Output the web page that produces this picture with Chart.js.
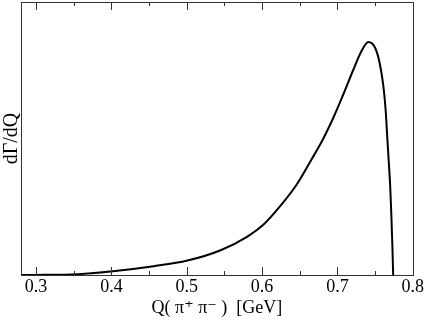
<!DOCTYPE html>
<html>
<head>
  <meta charset="UTF-8" />
  <title>dΓ/dQ</title>
  <script src="https://cdn.jsdelivr.net/npm/chart.js"></script>
  <style>
    html, body { margin: 0; padding: 0; background: #fff; }
    #wrap { width: 425px; height: 323px; }
  </style>
</head>
<body>
  <div id="wrap"><canvas id="c" width="425" height="323"></canvas></div>

  <script>
    // spectrum (arbitrary units)
    const qValues = [0.28, 0.30, 0.346, 0.402, 0.456, 0.501, 0.545, 0.580, 0.602, 0.624, 0.646, 0.666,
                     0.681, 0.695, 0.708, 0.721, 0.732, 0.741, 0.750, 0.756, 0.761, 0.764, 0.766,
                     0.768, 0.770, 0.7715, 0.773, 0.774];
    const rate    = [0, 0.001, 0.005, 0.038, 0.088, 0.145, 0.248, 0.382, 0.505, 0.688, 0.905, 1.16,
                     1.36, 1.58, 1.81, 2.05, 2.24, 2.33, 2.272, 2.122, 1.888, 1.65, 1.40,
                     1.15, 0.90, 0.62, 0.28, 0];
    const majorTicks = [0.3, 0.4, 0.5, 0.6, 0.7, 0.8];
    const minorTicks = [0.35, 0.45, 0.55, 0.65, 0.75];

    const serif = "'Liberation Serif', 'DejaVu Serif', serif";

    // box frame + inward tick marks
    const frame = {
      id: 'frame',
      afterDatasetsDraw(chart) {
        const { ctx, chartArea: a } = chart;
        const xs = chart.scales.x;
        ctx.save();
        ctx.strokeStyle = '#333';
        ctx.lineWidth = 1;
        const mark = (v, len) => {
          const px = Math.round(xs.getPixelForValue(v)) + 0.5;
          ctx.beginPath();
          ctx.moveTo(px, a.bottom); ctx.lineTo(px, a.bottom - len);
          ctx.moveTo(px, a.top); ctx.lineTo(px, a.top + len);
          ctx.stroke();
        };
        majorTicks.forEach(v => mark(v, 8));
        minorTicks.forEach(v => mark(v, 4));
        ctx.strokeRect(Math.round(a.left) + 0.5, Math.round(a.top) + 0.5,
                       Math.round(a.right - a.left), Math.round(a.bottom - a.top));
        ctx.restore();
      }
    };

    new Chart(document.getElementById('c'), {
      type: 'line',
      data: {
        datasets: [{
          data: qValues.map((q, i) => ({ x: q, y: rate[i] })),
          borderColor: '#000',
          borderWidth: 2,
          pointRadius: 0,
          fill: false,
          cubicInterpolationMode: 'monotone'
        }]
      },
      options: {
        responsive: false,
        animation: false,
        devicePixelRatio: 1,
        layout: { padding: { top: 2, right: 12, left: 0, bottom: 0 } },
        plugins: { legend: { display: false }, tooltip: { enabled: false } },
        scales: {
          x: {
            type: 'linear',
            min: 0.28,
            max: 0.8,
            afterBuildTicks: s => { s.ticks = majorTicks.map(v => ({ value: v })); },
            afterFit: s => { s.height = 48; },
            grid: { display: false, drawTicks: false },
            border: { display: false },
            ticks: {
              padding: 1,
              color: '#000',
              font: { family: serif, size: 18 },
              maxRotation: 0,
              callback: v => v.toFixed(1)
            },
            title: {
              display: true,
              text: 'Q( π⁺ π⁻ )  [GeV]',
              color: '#000',
              font: { family: serif, size: 18 },
              padding: { top: 0, bottom: 4 }
            }
          },
          y: {
            min: 0,
            max: 2.73,
            afterFit: s => { s.width = 21; },
            grid: { display: false, drawTicks: false },
            border: { display: false },
            ticks: { display: false },
            title: {
              display: true,
              text: 'dΓ/dQ',
              color: '#000',
              font: { family: serif, size: 20 },
              padding: 0
            }
          }
        }
      },
      plugins: [frame]
    });
  </script>
</body>
</html>
